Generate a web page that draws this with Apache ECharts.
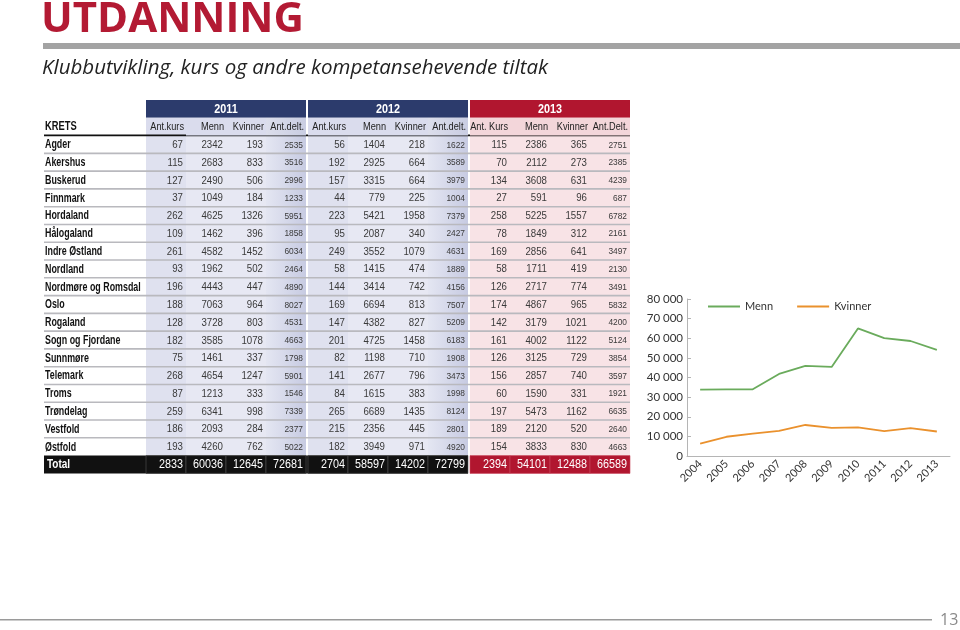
<!DOCTYPE html>
<html>
<head>
<meta charset="utf-8">
<script src="https://cdn.jsdelivr.net/npm/echarts@6/dist/echarts.min.js"></script>
<style>html,body{margin:0;padding:0;background:#fff;}#c{width:960px;height:630px;}</style>
</head>
<body>
<div id="c"></div>
<script>
// ---------- DATA ----------
const kretser = ['Agder','Akershus','Buskerud','Finnmark','Hordaland','Hålogaland','Indre Østland','Nordland','Nordmøre og Romsdal','Oslo','Rogaland','Sogn og Fjordane','Sunnmøre','Telemark','Troms','Trøndelag','Vestfold','Østfold'];
const tableYears = ['2011','2012','2013'];
const columnHeaders2011 = ['Ant.kurs','Menn','Kvinner','Ant.delt.'];
const columnHeaders2012 = ['Ant.kurs','Menn','Kvinner','Ant.delt.'];
const columnHeaders2013 = ['Ant. Kurs','Menn','Kvinner','Ant.Delt.'];
const antKurs2011 = [67,115,127,37,262,109,261,93,196,188,128,182,75,268,87,259,186,193];
const menn2011 = [2342,2683,2490,1049,4625,1462,4582,1962,4443,7063,3728,3585,1461,4654,1213,6341,2093,4260];
const kvinner2011 = [193,833,506,184,1326,396,1452,502,447,964,803,1078,337,1247,333,998,284,762];
const antDelt2011 = [2535,3516,2996,1233,5951,1858,6034,2464,4890,8027,4531,4663,1798,5901,1546,7339,2377,5022];
const antKurs2012 = [56,192,157,44,223,95,249,58,144,169,147,201,82,141,84,265,215,182];
const menn2012 = [1404,2925,3315,779,5421,2087,3552,1415,3414,6694,4382,4725,1198,2677,1615,6689,2356,3949];
const kvinner2012 = [218,664,664,225,1958,340,1079,474,742,813,827,1458,710,796,383,1435,445,971];
const antDelt2012 = [1622,3589,3979,1004,7379,2427,4631,1889,4156,7507,5209,6183,1908,3473,1998,8124,2801,4920];
const antKurs2013 = [115,70,134,27,258,78,169,58,126,174,142,161,126,156,60,197,189,154];
const menn2013 = [2386,2112,3608,591,5225,1849,2856,1711,2717,4867,3179,4002,3125,2857,1590,5473,2120,3833];
const kvinner2013 = [365,273,631,96,1557,312,641,419,774,965,1021,1122,729,740,331,1162,520,830];
const antDelt2013 = [2751,2385,4239,687,6782,2161,3497,2130,3491,5832,4200,5124,3854,3597,1921,6635,2640,4663];
const total2011 = [2833,60036,12645,72681];
const total2012 = [2704,58597,14202,72799];
const total2013 = [2394,54101,12488,66589];
const totalLabel = 'Total';

const chartYears = ['2004','2005','2006','2007','2008','2009','2010','2011','2012','2013'];
const mennSeries = [33800,34000,34000,41800,45900,45400,65000,60036,58597,54101];
const kvinnerSeries = [6300,9800,11400,12800,15800,14300,14600,12645,14202,12488];

// ---------- BUILD ----------
const groups = [
  [antKurs2011, menn2011, kvinner2011, antDelt2011],
  [antKurs2012, menn2012, kvinner2012, antDelt2012],
  [antKurs2013, menn2013, kvinner2013, antDelt2013]
];
const totals = [total2011, total2012, total2013];
const colHeads = [columnHeaders2011, columnHeaders2012, columnHeaders2013];

const KRETS_W = 2.55, GAP = 0.05;
function colLeft(g, c) { return KRETS_W + g * (4 + GAP) + c; }
const X_MAX = colLeft(2, 4);
const NROWS = kretser.length;

const FT = '"Liberation Sans",Arial,sans-serif';
const NAVY = '#2c3b6c', RED = '#b1162f';

const cellData = [];
groups.forEach((grp, g) => grp.forEach((arr, c) => arr.forEach((v, r) => cellData.push([g, c, r, v]))));
const totalData = [];
totals.forEach((arr, g) => arr.forEach((v, c) => totalData.push([g, c, NROWS, v])));
const labelData = kretser.map((k, r) => [r]);
const yearData = tableYears.map((y, g) => [g]);
const headData = [];
colHeads.forEach((arr, g) => arr.forEach((h, c) => headData.push([g, c])));

function txt(x, y, text, font, fill, align, sx) {
  return {type: 'text', x: x, y: y, scaleX: sx, scaleY: 1,
    style: {x: 0, y: 0, text: text, font: font, fill: fill, align: align, verticalAlign: 'middle'}};
}
function cellFill(g, c) {
  if (g === 2) return '#f8e3e6';
  if (c === 3) return new echarts.graphic.LinearGradient(0, 0, 1, 0, [{offset: 0, color: '#e4e6f2'}, {offset: 1, color: '#c7cbe2'}]);
  if (c === 0) return '#dfe1ef';
  return '#e7e8f3';
}

const chart = echarts.init(document.getElementById('c'), null, {renderer: 'canvas'});
const option = {
  animation: false,
  backgroundColor: '#fff',
  graphic: [
    {type: 'text', left: 41, top: -1, style: {text: 'UTDANNING', font: 'bold 42px "Open Sans"', fill: '#b31a33'}},
    {type: 'rect', shape: {x: 43, y: 43, width: 917, height: 6}, style: {fill: '#a3a3a3'}},
    {type: 'text', left: 42, top: 58, style: {text: 'Klubbutvikling, kurs og andre kompetansehevende tiltak', font: 'italic 20.5px "Open Sans"', fill: '#222'}},
    {type: 'rect', shape: {x: 0, y: 619, width: 932, height: 1.5}, style: {fill: '#9a9a9a'}},
    {type: 'text', left: 940, top: 612, style: {text: '13', font: '16px "Open Sans"', fill: '#8a8a8a'}}
  ],
  legend: {
    data: ['Menn', 'Kvinner'],
    left: 703, top: 296,
    icon: 'rect', itemWidth: 32, itemHeight: 2, itemGap: 24,
    textStyle: {fontFamily: 'Lato', fontSize: 11, color: '#333'}
  },
  grid: [
    {left: 44, top: 100, width: 40 * X_MAX, height: 17.78 * (NROWS + 3)},
    {left: 687, top: 299, right: 10, bottom: 174}
  ],
  xAxis: [
    {gridIndex: 0, type: 'value', min: 0, max: X_MAX, show: false},
    {gridIndex: 1, type: 'category', data: chartYears, boundaryGap: true,
     axisLine: {lineStyle: {color: '#b5b5b5'}},
     axisTick: {inside: true, length: 4, lineStyle: {color: '#b5b5b5'}},
     axisLabel: {rotate: 45, fontFamily: 'Lato', fontSize: 11, color: '#333', margin: 6}}
  ],
  yAxis: [
    {gridIndex: 0, type: 'value', inverse: true, min: -2, max: NROWS + 1, show: false},
    {gridIndex: 1, type: 'value', min: 0, max: 80000, interval: 10000,
     axisLine: {show: true, lineStyle: {color: '#b5b5b5'}},
     axisTick: {show: true, inside: true, length: 4, lineStyle: {color: '#b5b5b5'}},
     splitLine: {show: false},
     axisLabel: {fontFamily: 'Lato', fontSize: 11.5, color: '#333', margin: 4,
       formatter: v => String(v).replace(/\B(?=(\d{3})+(?!\d))/g, ' ')}}
  ],
  series: [
    {type: 'custom', xAxisIndex: 0, yAxisIndex: 0, data: cellData, silent: true,
     renderItem: (params, api) => {
       const g = api.value(0), c = api.value(1), r = api.value(2), v = api.value(3);
       const x0 = colLeft(g, c);
       const p1 = api.coord([x0, r]), p2 = api.coord([x0 + 1, r + 1]);
       return {type: 'group', children: [
         {type: 'rect', shape: {x: p1[0], y: p1[1], width: p2[0] - p1[0], height: p2[1] - p1[1]}, style: {fill: cellFill(g, c)}},
         txt(p2[0] - 3, (p1[1] + p2[1]) / 2 + 0.5, String(v), (c === 3 ? '9.5px ' : '11px ') + FT, '#3a3a3a', 'right', 0.88)
       ]};
     }},
    {type: 'custom', xAxisIndex: 0, yAxisIndex: 0, data: yearData, silent: true,
     renderItem: (params, api) => {
       const g = api.value(0);
       const p1 = api.coord([colLeft(g, 0), -2]), p2 = api.coord([colLeft(g, 4), -1]);
       return {type: 'group', children: [
         {type: 'rect', shape: {x: p1[0], y: p1[1], width: p2[0] - p1[0], height: p2[1] - p1[1]}, style: {fill: g === 2 ? RED : NAVY}},
         txt((p1[0] + p2[0]) / 2, (p1[1] + p2[1]) / 2 + 0.5, tableYears[g], 'bold 12px ' + FT, '#fff', 'center', 0.9)
       ]};
     }},
    {type: 'custom', xAxisIndex: 0, yAxisIndex: 0, data: headData, silent: true,
     renderItem: (params, api) => {
       const g = api.value(0), c = api.value(1);
       const x0 = colLeft(g, c);
       const p1 = api.coord([x0, -1]), p2 = api.coord([x0 + 1, 0]);
       const fill = g === 2 ? '#f3d6da' : (c === 3 ? new echarts.graphic.LinearGradient(0, 0, 1, 0, [{offset: 0, color: '#dcdeeb'}, {offset: 1, color: '#c9cde2'}]) : '#dadced');
       const children = [
         {type: 'rect', shape: {x: p1[0], y: p1[1], width: p2[0] - p1[0], height: p2[1] - p1[1]}, style: {fill: fill}},
         txt(p2[0] - 2, (p1[1] + p2[1]) / 2 + 0.5, colHeads[g][c], '11.5px ' + FT, '#222', 'right', 0.8)
       ];
       if (g === 0 && c === 0) {
         const q1 = api.coord([0, -1]), q2 = api.coord([X_MAX, 0]);
         children.push(txt(q1[0] + 1, (q1[1] + q2[1]) / 2 + 0.5, 'KRETS', 'bold 12px ' + FT, '#111', 'left', 0.78));
         children.push({type: 'rect', shape: {x: q1[0], y: q2[1] - 1, width: q2[0] - q1[0], height: 1.6}, style: {fill: '#111'}});
       }
       return {type: 'group', children: children};
     }},
    {type: 'custom', xAxisIndex: 0, yAxisIndex: 0, data: labelData, silent: true, z: 3,
     renderItem: (params, api) => {
       const r = api.value(0);
       const p1 = api.coord([0, r]), p2 = api.coord([X_MAX, r + 1]);
       const children = [
         txt(p1[0] + 1, (p1[1] + p2[1]) / 2 + 0.5, kretser[r], 'bold 12px ' + FT, '#111', 'left', 0.74)
       ];
       if (r < NROWS - 1) {
         children.push({type: 'rect', shape: {x: p1[0], y: p2[1] - 0.8, width: p2[0] - p1[0], height: 1.6}, style: {fill: '#b9b9be'}});
       }
       return {type: 'group', children: children};
     }},
    {type: 'custom', xAxisIndex: 0, yAxisIndex: 0, data: totalData, silent: true,
     renderItem: (params, api) => {
       const g = api.value(0), c = api.value(1), r = api.value(2), v = api.value(3);
       const x0 = colLeft(g, c);
       const p1 = api.coord([x0, r]), p2 = api.coord([x0 + 1, r + 1]);
       const children = [
         {type: 'rect', shape: {x: p1[0], y: p1[1], width: p2[0] - p1[0], height: p2[1] - p1[1]},
          style: {fill: g === 2 ? RED : '#111', stroke: g === 2 ? '#c9475c' : '#555', lineWidth: 0.6}},
         txt(p2[0] - 3, (p1[1] + p2[1]) / 2 + 0.5, String(v), '12px ' + FT, '#fff', 'right', 0.9)
       ];
       if (g === 0 && c === 0) {
         const q1 = api.coord([0, r]), q2 = api.coord([colLeft(1, 4), r + 1]);
         children.unshift({type: 'rect', shape: {x: q1[0], y: q1[1], width: q2[0] - q1[0], height: q2[1] - q1[1]}, style: {fill: '#111'}});
         children.push(txt(q1[0] + 3, (q1[1] + q2[1]) / 2 + 0.5, totalLabel, 'bold 12.5px ' + FT, '#fff', 'left', 0.8));
       }
       return {type: 'group', children: children};
     }},
    {name: 'Menn', type: 'line', xAxisIndex: 1, yAxisIndex: 1, data: mennSeries, symbol: 'none',
     lineStyle: {color: '#6aab5c', width: 1.8}, itemStyle: {color: '#6aab5c'}},
    {name: 'Kvinner', type: 'line', xAxisIndex: 1, yAxisIndex: 1, data: kvinnerSeries, symbol: 'none',
     lineStyle: {color: '#ea912d', width: 1.8}, itemStyle: {color: '#ea912d'}}
  ]
};
chart.setOption(option);
</script>
</body>
</html>
